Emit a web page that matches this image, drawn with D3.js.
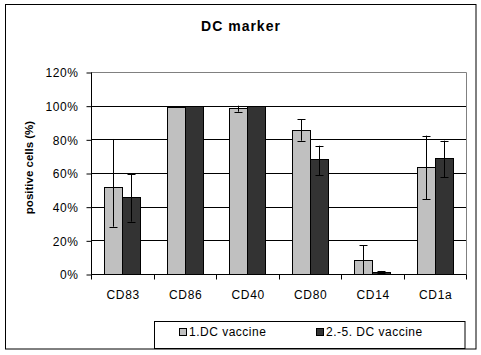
<!DOCTYPE html>
<html><head><meta charset="utf-8">
<script src="https://cdn.jsdelivr.net/npm/d3@7"></script>
<style>body{margin:0;background:#fff}svg{display:block}text{font-family:Arial,"Liberation Sans",sans-serif}</style>
</head><body><svg id="c" width="481" height="355"></svg>
<script>
const categories = ["CD83","CD86","CD40","CD80","CD14","CD1a"];
const seriesNames = ["1.DC vaccine","2.-5. DC vaccine"];
const dc1 = [51.5, 99.5, 98.8, 85.4, 8.1, 63.4];
const dc2 = [45.7, 100, 100, 68.2, 1.2, 68.7];
const dc1ErrHigh = [80.2, 99.5, 100, 91.9, 17.1, 82.2];
const dc1ErrLow  = [28.1, 99.5, 96.4, 79.2, 0, 44.4];
const dc2ErrHigh = [59.4, 100, 100, 76.2, 1.8, 79.2];
const dc2ErrLow  = [31.1, 100, 100, 58.6, 0.6, 57.5];
const yTicks = [0,20,40,60,80,100,120];
const colors = ["#c0c0c0","#333333"];

const svg = d3.select("#c");
const L=91, R=466, T=72, B=274;

svg.append("rect").attr("x",5.5).attr("y",4.5).attr("width",470.5).attr("height",344.5)
  .attr("fill","#fff").attr("stroke","#000").attr("stroke-width",1);

svg.append("text").attr("x",241).attr("y",30.5).attr("text-anchor","middle")
  .attr("font-size",14).attr("font-weight","bold").attr("letter-spacing",1).text("DC marker");

const y = d3.scaleLinear().domain([0,120]).range([B,T]);
const x0 = d3.scaleBand().domain(categories).range([L,R]).padding(0);
const x1 = d3.scaleBand().domain(seriesNames).range([0,x0.bandwidth()]).paddingInner(0).paddingOuter(0.736);

// gridlines
svg.append("g").selectAll("line").data(yTicks.filter(t=>t>0 && t<120)).join("line")
  .attr("x1",L).attr("x2",R).attr("y1",d=>Math.round(y(d))+0.5).attr("y2",d=>Math.round(y(d))+0.5)
  .attr("stroke","#000");
// plot area top/right border
svg.append("path").attr("d",`M${L},${T+0.5}H${R+0.5}V${B}`).attr("fill","none").attr("stroke","#808080");

// y axis
const yAxis = d3.axisLeft(y).tickValues(yTicks).tickFormat(d=>d+"%").tickSize(5).tickPadding(8);
const gy = svg.append("g").attr("transform",`translate(${L+0.5},0.5)`).call(yAxis);
gy.select(".domain").remove();
gy.append("line").attr("x1",0).attr("x2",0).attr("y1",y(120)).attr("y2",y(0)).attr("stroke","#000");
gy.selectAll("text").attr("font-size",12).attr("letter-spacing",0.6).attr("fill","#000").attr("dy","0.36em");
gy.selectAll(".tick line").attr("stroke","#000");

// x axis
const gx = svg.append("g").attr("transform",`translate(0,${B+0.5})`);
gx.append("line").attr("x1",L).attr("x2",R+0.5).attr("stroke","#000");
gx.selectAll(".tk").data(d3.range(categories.length+1)).join("line")
  .attr("x1",i=>Math.round(L+i*x0.step())+0.5).attr("x2",i=>Math.round(L+i*x0.step())+0.5)
  .attr("y1",0).attr("y2",5).attr("stroke","#000");
gx.selectAll("text").data(categories).join("text")
  .attr("x",d=>x0(d)+x0.bandwidth()/2+1).attr("y",24.5).attr("text-anchor","middle")
  .attr("font-size",12).attr("letter-spacing",0.7).text(d=>d);

// bars
const vals=[dc1,dc2], hi=[dc1ErrHigh,dc2ErrHigh], lo=[dc1ErrLow,dc2ErrLow];
const bars=[];
categories.forEach((c,i)=>seriesNames.forEach((s,j)=>bars.push({c,s,j,v:vals[j][i],h:hi[j][i],l:lo[j][i]})));
svg.append("g").selectAll("rect").data(bars).join("rect")
  .attr("x",d=>Math.round(x0(d.c)+x1(d.s))+0.5).attr("y",d=>Math.round(y(d.v))+0.5)
  .attr("width",x1.bandwidth()).attr("height",d=>Math.round(y(0))-Math.round(y(d.v)))
  .attr("fill",d=>colors[d.j]).attr("stroke","#000");

// error bars
const eg = svg.append("g").attr("stroke","#000");
bars.filter(d=>d.h-d.l>0.1).forEach(d=>{
  const cx=Math.round(x0(d.c)+x1(d.s)+x1.bandwidth()/2)+0.5;
  eg.append("line").attr("x1",cx).attr("x2",cx).attr("y1",y(d.h)).attr("y2",y(d.l));
  eg.append("line").attr("x1",cx-4).attr("x2",cx+4).attr("y1",Math.round(y(d.h))+0.5).attr("y2",Math.round(y(d.h))+0.5);
  eg.append("line").attr("x1",cx-4).attr("x2",cx+4).attr("y1",Math.round(y(d.l))+0.5).attr("y2",Math.round(y(d.l))+0.5);
});

// y title
svg.append("text").attr("transform","translate(33,167.5) rotate(-90)").attr("text-anchor","middle")
  .attr("font-size",11.5).attr("font-weight","bold").text("positive cells (%)");

// legend
const lg = svg.append("g");
lg.append("rect").attr("x",154.5).attr("y",321.5).attr("width",310.5).attr("height",27).attr("fill","#fff").attr("stroke","#000");
const legX=[179,316];
seriesNames.forEach((s,j)=>{
  lg.append("rect").attr("x",legX[j]+0.5).attr("y",328.5).attr("width",7).attr("height",7).attr("fill",colors[j]).attr("stroke","#000");
  lg.append("text").attr("x",legX[j]+10).attr("y",336).attr("font-size",12).attr("letter-spacing",0.5).text(s);
});
</script></body></html>
